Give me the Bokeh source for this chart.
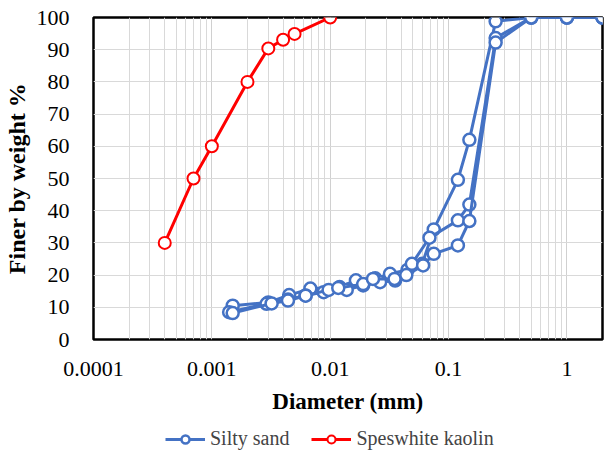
from bokeh.plotting import figure
from bokeh.layouts import column
from bokeh.models import (FixedTicker, CustomJSTickFormatter, Legend, LegendItem,
                          Range1d)
from bokeh.embed import file_html
from bokeh.resources import INLINE

# ---- data ----
sand_a_d = [0.0015, 0.003, 0.0045, 0.0068, 0.012, 0.0165, 0.024, 0.032, 0.045, 0.06, 0.075, 0.12, 0.15, 0.25, 0.5, 1, 2]
sand_a_p = [10.5, 11.5, 13.8, 15.8, 16.3, 18.4, 19.0, 20.4, 21.6, 23.5, 34.2, 49.6, 62.0, 98.8, 100, 100, 100]

sand_b_d = [0.0014, 0.0029, 0.0044, 0.0062, 0.0088, 0.0138, 0.019, 0.0264, 0.0354, 0.049, 0.069, 0.12, 0.15, 0.25, 0.5, 1, 2]
sand_b_p = [8.5, 11.1, 12.4, 13.7, 14.7, 15.4, 16.8, 17.8, 18.3, 23.5, 31.6, 37.0, 41.9, 93.6, 100, 100, 100]

sand_c_d = [0.0015, 0.0032, 0.0044, 0.0062, 0.0097, 0.0117, 0.019, 0.023, 0.035, 0.044, 0.061, 0.075, 0.12, 0.15, 0.25, 0.5, 1, 2]
sand_c_p = [8.2, 11.2, 12.1, 13.6, 15.4, 16.0, 17.2, 18.8, 18.8, 20.0, 23.0, 26.6, 29.2, 36.8, 92.2, 100, 100, 100]

kaolin_d = [0.0004, 0.0007, 0.001, 0.002, 0.003, 0.004, 0.005, 0.01]
kaolin_p = [30, 50, 60, 80, 90.4, 93.1, 94.9, 100]

x_ticks = [0.0001, 0.001, 0.01, 0.1, 1]
y_ticks = [0, 10, 20, 30, 40, 50, 60, 70, 80, 90, 100]
series_names = ["Silty sand", "Speswhite kaolin"]

BLUE = "#4472C4"
RED = "#FF0000"
SERIF = "Liberation Serif"

p = figure(frame_width=509, frame_height=322, x_axis_type="log",
           x_range=Range1d(0.0001, 2), y_range=Range1d(0, 100),
           output_backend="svg", toolbar_location=None,
           min_border_left=85, min_border_right=2, min_border_top=17,
           min_border_bottom=84)

minor = [m * 10 ** e for e in range(-4, 1) for m in range(2, 10)]
p.xaxis.ticker = FixedTicker(ticks=x_ticks, minor_ticks=minor)
p.xaxis.formatter = CustomJSTickFormatter(code="return tick.toString();")
p.yaxis.ticker = FixedTicker(ticks=y_ticks)

for ax in (p.xaxis[0], p.yaxis[0]):
    ax.major_label_text_font = SERIF
    ax.major_label_text_font_size = "22px"
    ax.major_label_text_color = "#000000"
    ax.axis_label_text_font = SERIF
    ax.axis_label_text_font_style = "bold"
    ax.axis_label_text_color = "#000000"
    ax.major_tick_line_color = None
    ax.minor_tick_line_color = None
    ax.axis_line_color = None

p.xaxis.axis_label = "Diameter (mm)"
p.yaxis.axis_label = "Finer by weight %"
p.xaxis.axis_label_text_font_size = "23px"
p.yaxis.axis_label_text_font_size = "24px"
p.xaxis.major_label_standoff = 16
p.yaxis.major_label_standoff = 18
p.xaxis.axis_label_standoff = 10
p.yaxis.axis_label_standoff = 4

p.xgrid.grid_line_color = "#d0d0d0"
p.xgrid.minor_grid_line_color = "#d9d9d9"
p.ygrid.grid_line_color = "#d9d9d9"
p.outline_line_color = "black"
p.outline_line_width = 2.5
p.background_fill_color = "white"
p.border_fill_color = "white"

for d, v in ((sand_a_d, sand_a_p), (sand_b_d, sand_b_p), (sand_c_d, sand_c_p)):
    p.line(d, v, line_color=BLUE, line_width=3)
    p.scatter(d, v, size=12, marker="circle", fill_color="white",
              line_color=BLUE, line_width=2.5)

p.line(kaolin_d, kaolin_p, line_color=RED, line_width=3)
p.scatter(kaolin_d, kaolin_p, size=12, marker="circle", fill_color="white",
          line_color=RED, line_width=2)

# ---- legend strip below the chart (series drawn out of view, only legend shows) ----
lg = figure(width=596, height=27, x_range=Range1d(0, 1), y_range=Range1d(-2, -1),
            output_backend="svg", toolbar_location=None, min_border=0)
lg.axis.visible = False
lg.grid.visible = False
lg.outline_line_color = None
items = []
for name, col, lw, d, v in ((series_names[0], BLUE, 3, sand_a_d, sand_a_p),
                            (series_names[1], RED, 3, kaolin_d, kaolin_p)):
    l = lg.line(d, v, line_color=col, line_width=lw)
    s = lg.scatter(d, v, size=12, marker="circle", fill_color="white",
                   line_color=col, line_width=2.5 if col == BLUE else 2)
    items.append(LegendItem(label=name, renderers=[l, s]))

legend = Legend(items=items, orientation="horizontal", location=(72, 0),
                label_text_font=SERIF, label_text_font_size="20px",
                glyph_width=40, glyph_height=20, spacing=22, padding=2, margin=0,
                border_line_color=None, background_fill_alpha=0)
lg.add_layout(legend, "center")

layout = column(p, lg, spacing=0)
open("out.html", "w").write(file_html(layout, INLINE))
